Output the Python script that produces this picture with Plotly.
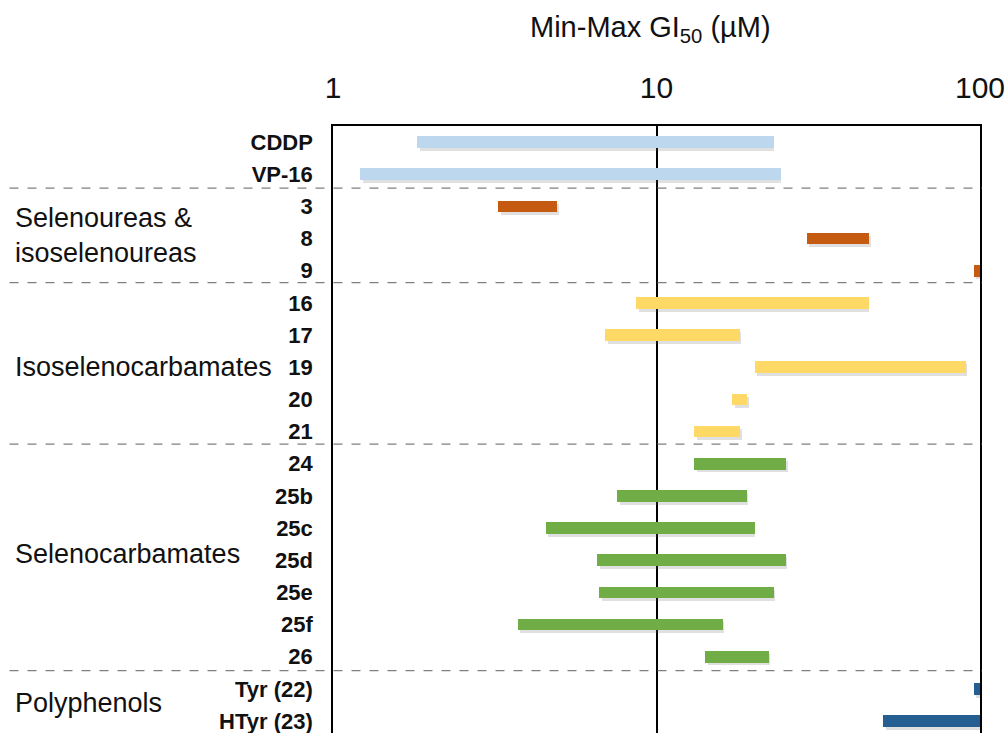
import plotly.graph_objects as go

# ---- data ----
compounds = ["CDDP", "VP-16", "3", "8", "9", "16", "17", "19", "20", "21",
             "24", "25b", "25c", "25d", "25e", "25f", "26", "Tyr (22)", "HTyr (23)"]
gi50_min = [1.82, 1.21, 3.24, 29.1, 95.6, 8.65, 6.94, 20.1, 17.1, 13.1,
            13.1, 7.57, 4.54, 6.55, 6.66, 3.72, 14.1, 95.6, 50.3]
gi50_max = [23.1, 24.2, 4.93, 45.3, 100, 45.3, 18.1, 90.5, 19.0, 18.1,
            25.2, 19.0, 20.1, 25.2, 23.1, 16.1, 22.2, 100, 100]
groups = ["ref", "ref", "sel", "sel", "sel", "iso", "iso", "iso", "iso", "iso",
          "selc", "selc", "selc", "selc", "selc", "selc", "selc", "poly", "poly"]
group_names = ["Selenoureas &<br>isoselenoureas", "Isoselenocarbamates",
               "Selenocarbamates", "Polyphenols"]
group_label_rows = [2.9, 7.0, 12.8, 17.45]
separator_rows = [1.43, 4.37, 9.39, 16.43]
tick_vals = [1, 10, 100]
tick_text = ["1", "10", "100"]

group_colors = {"ref": "#BDD7EE", "sel": "#C55A11", "iso": "#FFD966",
                "selc": "#70AD47", "poly": "#255E91"}

FONT = "Liberation Sans, Arial, sans-serif"
rows = list(range(len(compounds)))
lengths = [mx - mn for mn, mx in zip(gi50_min, gi50_max)]

fig = go.Figure()

# soft shadow
fig.add_trace(go.Bar(
    y=[r + 0.09 for r in rows], x=lengths,
    base=[b * 1.02 for b in gi50_min], orientation="h", width=0.36,
    marker=dict(color="rgba(100,100,100,0.2)", line=dict(width=0)),
    hoverinfo="skip", showlegend=False))

fig.add_trace(go.Bar(
    y=rows, x=lengths, base=gi50_min, orientation="h", width=0.36,
    marker=dict(color=[group_colors[g] for g in groups], line=dict(width=0)),
    customdata=list(zip(compounds, gi50_min, gi50_max)),
    hovertemplate="%{customdata[0]}: %{customdata[1]}–%{customdata[2]} µM<extra></extra>",
    showlegend=False))

shapes = []
for s in separator_rows:
    shapes.append(dict(type="line", xref="paper", yref="y", x0=-0.5, x1=1.003,
                       y0=s, y1=s, line=dict(color="#7F7F7F", width=1.3, dash="dash"),
                       layer="above"))

annotations = []
for name, r in zip(group_names, group_label_rows):
    annotations.append(dict(text=name, xref="paper", yref="y", x=-0.495, y=r,
                            xanchor="left", yanchor="middle", showarrow=False,
                            align="left", font=dict(family=FONT, size=27, color="#111")))
annotations.append(dict(text="Min-Max GI<sub>50</sub> (µM)", xref="paper", yref="paper",
                        x=0.49, y=1 + 97 / 607, xanchor="center", yanchor="middle",
                        showarrow=False, font=dict(family=FONT, size=29, color="#111")))

fig.update_layout(
    width=1007, height=733,
    margin=dict(l=333, r=27, t=126, b=0, pad=0),
    paper_bgcolor="white", plot_bgcolor="white",
    barmode="overlay", bargap=0,
    shapes=shapes, annotations=annotations,
    font=dict(family=FONT, color="#111"),
)
fig.update_xaxes(type="log", range=[0, 2], side="top", tickvals=tick_vals,
                 ticktext=tick_text, tickfont=dict(family=FONT, size=30, color="#111"),
                 showgrid=True, gridcolor="black", gridwidth=1.5,
                 showline=True, linecolor="black", linewidth=1.5, mirror=False,
                 ticks="", ticklabelstandoff=14, ticklabeloverflow="allow",
                 zeroline=False)
fig.update_yaxes(range=[18.37, -0.5], tickvals=rows,
                 ticktext=["<b>%s</b>" % c for c in compounds],
                 tickfont=dict(family=FONT, size=22, color="#111"),
                 showgrid=False, showline=True, linecolor="black", linewidth=1.5,
                 mirror=True, ticks="", ticklabelstandoff=14,
                 ticklabeloverflow="allow", zeroline=False)

fig.write_html("out.html", config={"displayModeBar": False},
               post_script="document.body.style.margin='0';"
                           "document.body.style.overflow='hidden';")
